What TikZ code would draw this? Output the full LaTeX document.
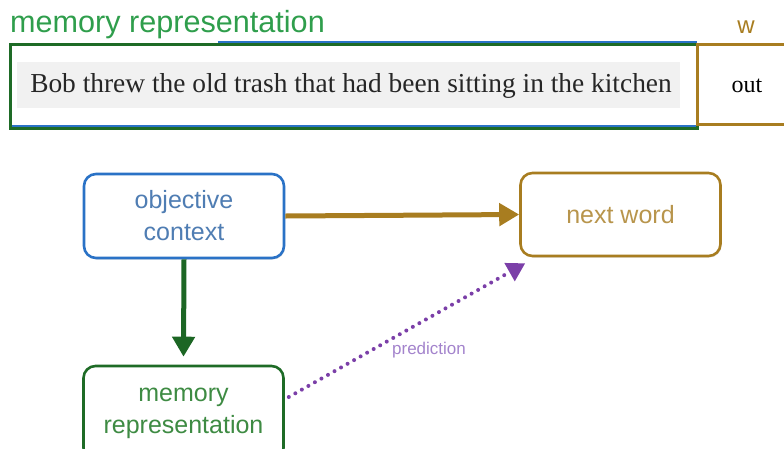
\documentclass[tikz,border=0pt]{standalone}
\usepackage{fontspec}
\setmainfont{Liberation Sans}
\newfontfamily\serifA{Liberation Serif}
\usetikzlibrary{arrows.meta,shadows}
\definecolor{bluebd}{HTML}{2A72C6}
\definecolor{bluetx}{HTML}{4F7DB3}
\definecolor{greenbd}{HTML}{1E6B26}
\definecolor{greentx}{HTML}{3E8B43}
\definecolor{greentop}{HTML}{2F9E4C}
\definecolor{brownbd}{HTML}{A87D20}
\definecolor{browntx}{HTML}{B8954C}
\definecolor{purplear}{HTML}{7B3FA8}
\definecolor{purpletx}{HTML}{A383CC}
\definecolor{stripgray}{HTML}{F1F1F1}
\tikzset{
  boxnode/.style={draw, line width=2.6pt, rounded corners=12pt, fill=white,
    minimum width=200pt, minimum height=84pt, align=center,
    font=\fontsize{25}{32}\selectfont,
    drop shadow={opacity=0.25, shadow xshift=1pt, shadow yshift=-1.5pt}},
  thickarrow/.style={line width=5pt, -{Triangle[length=20pt,width=22pt]}},
}
\begin{document}
\begin{tikzpicture}[x=1pt,y=-1pt]
\useasboundingbox (0,0) rectangle (784,448);
% top memory strip
\draw[bluebd, line width=2pt] (218,41.5) -- (697,41.5);
\draw[bluebd, line width=2pt] (10,126) -- (697,126);
\draw[greenbd, line width=3pt] (10,44) rectangle (697,128);
\draw[brownbd, line width=3pt] (790,44) -- (697,44) -- (697,124) -- (790,124);
\fill[stripgray] (17,62) rectangle (680,108);
\node[anchor=base west, text=greentop, font=\fontsize{30.6}{34}\selectfont, inner sep=0pt] (toplabel) at (10,32) {memory representation};
\node[anchor=base, text=brownbd, font=\fontsize{24}{28}\selectfont, inner sep=0pt] (wlabel) at (746,33) {w};
\node[text=black!85, font=\serifA\fontsize{27.4}{30}\selectfont, inner sep=0pt] (sentence) at (351,86) {Bob threw the old trash that had been sitting in the kitchen};
\node[text=black, font=\serifA\fontsize{24}{28}\selectfont, inner sep=0pt] (outlabel) at (747,86) {out};
% boxes
\node[boxnode, draw=bluebd, text=bluetx] (obj) at (184,216) {objective\\context};
\node[boxnode, draw=brownbd, text=browntx, minimum height=83pt] (next) at (620.5,214.5) {next word};
\node[boxnode, draw=greenbd, text=greentx, minimum height=94pt] (mem) at (183.5,413) {memory\\representation};
% connectors
\draw[thickarrow, color=brownbd] (obj.east) -- (next.west);
\draw[thickarrow, color=greenbd!95!black] (obj.south) -- ([yshift=8pt]mem.north);
\draw[purplear, line width=4pt, dash pattern=on 0pt off 7.5pt, line cap=round,
  -{Triangle[length=18pt,width=20pt]}] ([shift={(4,-16)}]mem.east) -- ([shift={(6,6)}]next.south west);
\node[text=purpletx, font=\fontsize{17}{20}\selectfont, inner sep=0pt] (predlabel) at (429,350) {prediction};
\end{tikzpicture}
\end{document}
